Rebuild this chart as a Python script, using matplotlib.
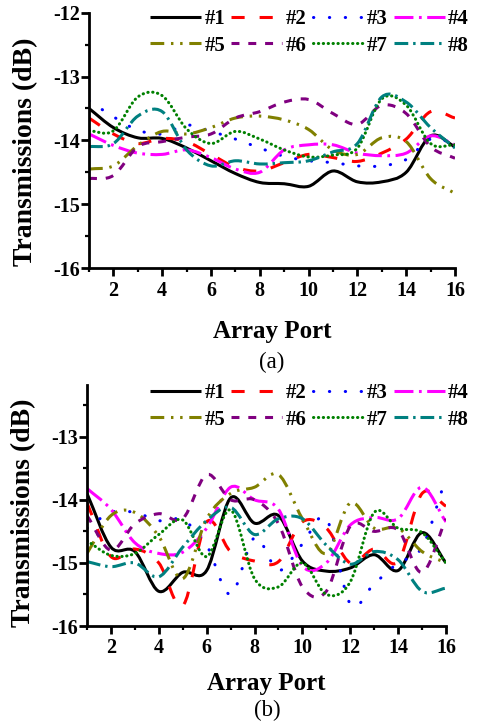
import numpy as np
import matplotlib
matplotlib.use('Agg')
import matplotlib.pyplot as plt
from matplotlib.path import Path
from matplotlib.patches import PathPatch
from matplotlib.lines import Line2D
from matplotlib.ticker import MultipleLocator

plt.rcParams['font.family'] = ['Liberation Serif', 'DejaVu Serif']

# ---------------- data ----------------
ports = list(range(1, 17))
labels = ['#1', '#2', '#3', '#4', '#5', '#6', '#7', '#8']

# panel (a)
a1 = [-13.50, -13.80, -13.96, -13.97, -14.12, -14.32, -14.52, -14.66, -14.68, -14.72, -14.48, -14.65, -14.65, -14.50, -13.93, -14.10]
a2 = [-13.65, -13.90, -14.05, -13.97, -14.02, -14.22, -14.42, -14.48, -14.35, -14.22, -14.27, -14.33, -14.20, -13.98, -13.55, -13.65]
a3 = [-13.38, -13.63, -13.84, -13.90, -13.76, -13.86, -13.98, -14.12, -14.25, -14.32, -14.35, -14.40, -14.40, -14.30, -13.98, -14.05]
a4 = [-13.90, -14.08, -14.20, -14.22, -14.15, -14.27, -14.45, -14.50, -14.15, -14.07, -14.07, -14.20, -14.24, -14.20, -13.93, -14.07]
a5 = [-14.45, -14.40, -14.08, -13.86, -13.90, -13.80, -13.65, -13.62, -13.68, -13.83, -14.15, -14.22, -13.96, -14.02, -14.60, -14.83]
a6 = [-14.60, -14.55, -14.10, -14.02, -13.95, -13.90, -13.65, -13.55, -13.40, -13.36, -13.58, -13.75, -13.45, -13.58, -14.10, -14.28]
a7 = [-13.85, -13.85, -13.32, -13.30, -13.82, -14.05, -13.86, -13.98, -14.15, -14.26, -14.23, -14.12, -13.35, -13.45, -14.05, -14.07]
a8 = [-14.10, -14.05, -13.62, -13.55, -14.15, -14.40, -14.32, -14.37, -14.35, -14.32, -14.18, -14.05, -13.32, -13.40, -13.80, -14.12]

# panel (b)
b1 = [-13.90, -14.75, -14.82, -15.45, -15.15, -15.12, -13.97, -14.37, -14.25, -14.97, -15.13, -15.08, -14.87, -15.12, -14.52, -15.00]
b2 = [-14.05, -14.90, -14.78, -15.00, -15.68, -14.35, -14.82, -14.97, -14.98, -14.35, -14.45, -15.00, -14.78, -14.98, -13.90, -14.10]
b3 = [-14.45, -14.20, -14.20, -14.33, -14.32, -14.72, -15.50, -14.60, -15.12, -14.70, -14.30, -15.65, -15.33, -15.00, -14.75, -13.65]
b4 = [-13.82, -14.15, -14.68, -14.85, -14.83, -14.45, -13.80, -14.00, -14.15, -15.05, -15.00, -14.40, -14.28, -14.30, -13.80, -14.35]
b5 = [-14.85, -14.25, -14.20, -14.58, -15.25, -14.30, -13.90, -13.80, -13.60, -14.30, -14.85, -14.05, -14.45, -14.45, -14.82, -15.00]
b6 = [-14.25, -14.80, -14.38, -14.22, -14.30, -13.60, -14.00, -14.00, -14.38, -15.38, -15.45, -14.42, -14.50, -14.48, -15.15, -14.30]
b7 = [-14.65, -14.88, -14.85, -14.55, -14.32, -14.90, -14.16, -15.25, -15.38, -15.00, -15.50, -15.30, -14.20, -14.45, -14.52, -15.00]
b8 = [-14.98, -15.06, -15.00, -15.22, -14.75, -14.33, -14.12, -14.55, -14.30, -14.30, -14.72, -15.02, -14.82, -14.95, -15.45, -15.40]

series_a = [a1, a2, a3, a4, a5, a6, a7, a8]
series_b = [b1, b2, b3, b4, b5, b6, b7, b8]

# ---------------- styles ----------------
colors = ['#000000', '#FF0000', '#0000FF', '#FF00FF', '#808000', '#800080', '#008000', '#008080']
dashes = [None,
          (0, (4.3, 4.9)),
          (0, (0.1, 5.1)),
          (0, (6.2, 1.8, 0.9, 1.8)),
          (0, (4.5, 2.2, 0.8, 2.2, 0.8, 2.2)),
          (0, (2.6, 2.9)),
          (0, (0.1, 1.5)),
          (0, (4.5, 1.6, 0.8, 1.6))]
caps = ['butt', 'butt', 'round', 'butt', 'butt', 'butt', 'round', 'butt']
LW = 2.2


def smooth_path(x, y):
    x = np.asarray(x, float)
    y = np.asarray(y, float)
    n = len(x)
    mx = np.empty(n)
    my = np.empty(n)
    mx[1:-1] = (x[2:] - x[:-2]) / 2
    my[1:-1] = (y[2:] - y[:-2]) / 2
    mx[0], my[0] = x[1] - x[0], y[1] - y[0]
    mx[-1], my[-1] = x[-1] - x[-2], y[-1] - y[-2]
    verts = [(x[0], y[0])]
    codes = [Path.MOVETO]
    for i in range(n - 1):
        verts += [(x[i] + mx[i] / 3, y[i] + my[i] / 3),
                  (x[i + 1] - mx[i + 1] / 3, y[i + 1] - my[i + 1] / 3),
                  (x[i + 1], y[i + 1])]
        codes += [Path.CURVE4] * 3
    return Path(verts, codes)


fig = plt.figure(figsize=(4.8, 7.24), dpi=100)

W, H = 480.0, 724.0
# axes boxes in pixels: left, right, top, bottom
box1 = (89, 455, 12.7, 268)
box2 = (87, 446, 385, 626)
ax1 = fig.add_axes([box1[0] / W, 1 - box1[3] / H, (box1[1] - box1[0]) / W, (box1[3] - box1[2]) / H])
ax2 = fig.add_axes([box2[0] / W, 1 - box2[3] / H, (box2[1] - box2[0]) / W, (box2[3] - box2[2]) / H])


def draw(ax, box, series, ylim, yticks, legend_top, ylab_center, ylab_right, xlab_top, xpad):
    l, r, t, b = box
    for i, ys in enumerate(series):
        ls = 'solid' if dashes[i] is None else dashes[i]
        p = PathPatch(smooth_path(ports, ys), fill=False, edgecolor=colors[i],
                      linewidth=LW, linestyle=ls, capstyle=caps[i],
                      joinstyle='round', transform=ax.transData, zorder=2 + i * 0.01)
        ax.add_patch(p)
    ax.set_xlim(1, 16)
    ax.set_ylim(*ylim)
    ax.set_xticks([2, 4, 6, 8, 10, 12, 14, 16])
    ax.xaxis.set_minor_locator(MultipleLocator(1))
    ax.set_yticks(yticks)
    ax.set_yticklabels(['%d' % v for v in yticks])
    ax.yaxis.set_minor_locator(MultipleLocator(0.5))
    for s in ['top', 'right']:
        ax.spines[s].set_visible(False)
    for s in ['left', 'bottom']:
        ax.spines[s].set_linewidth(2.0)
    ax.tick_params(which='major', direction='out', length=5.5, width=2.0, labelsize=14.5)
    ax.tick_params(axis='x', which='major', pad=xpad)
    ax.tick_params(axis='y', which='major', pad=1.0)
    ax.tick_params(which='minor', direction='out', length=3, width=1.6)
    for lab in ax.get_xticklabels() + ax.get_yticklabels():
        lab.set_fontweight('bold')
    ax.set_xlabel('Array Port', fontsize=18, fontweight='bold', va='top')
    ax.xaxis.set_label_coords(0.5, (b - xlab_top) / (b - t))
    ax.set_ylabel('Transmissions (dB)', fontsize=20, fontweight='bold')
    ax.yaxis.set_label_coords((ylab_right - l) / (r - l), (b - ylab_center) / (b - t))

    handles = []
    for i in range(8):
        ls = 'solid' if dashes[i] is None else dashes[i]
        handles.append(Line2D([], [], color=colors[i], lw=LW, linestyle=ls,
                              dash_capstyle=caps[i], solid_capstyle='butt'))
    order = [0, 4, 1, 5, 2, 6, 3, 7]
    ax.legend([handles[k] for k in order], [labels[k] for k in order], ncol=4,
              loc='upper right', bbox_to_anchor=(469 / W, 1 - legend_top / H),
              bbox_transform=fig.transFigure, frameon=False,
              handlelength=2.45, handletextpad=0.15, columnspacing=0.3,
              borderpad=0, borderaxespad=0, labelspacing=0.32,
              prop={'weight': 'bold', 'size': 15})


draw(ax1, box1, series_a, (-16, -12), [-16, -15, -14, -13, -12], 9, 152, 38, 320, 4.0)
draw(ax2, box2, series_b, (-16, -12.18), [-16, -15, -14, -13], 383, 513, 36, 672, 3.0)

fig.text(272 / W, 1 - 362 / H, '(a)', ha='center', va='center', fontsize=16.5)
fig.text(267 / W, 1 - 710 / H, '(b)', ha='center', va='center', fontsize=16.5)

fig.savefig('out.png', dpi=100)
